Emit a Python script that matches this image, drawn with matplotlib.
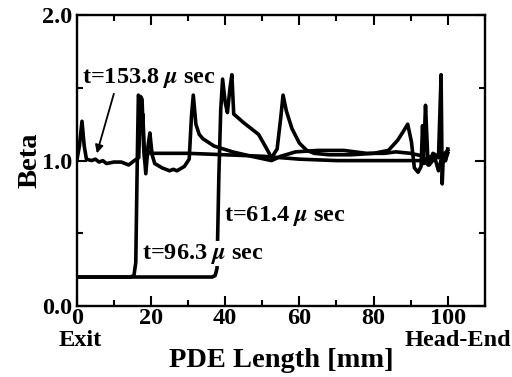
import matplotlib
matplotlib.use("Agg")
import matplotlib.pyplot as plt
from matplotlib.ticker import MultipleLocator

plt.rcParams["font.family"] = ["Liberation Serif", "DejaVu Serif"]
plt.rcParams["font.weight"] = "bold"
plt.rcParams["mathtext.fontset"] = "stix"

# t = 61.4 usec (front near 38 mm)
x_614 = [0, 10, 20, 30, 36.5, 37.3, 37.8, 38.3, 38.8, 39.3, 40.0, 40.6, 41.3, 41.8, 42.3,
         45, 49, 51, 52.5, 54, 55.0, 55.6, 56.5, 58, 60, 62, 64, 68, 74, 80, 84, 86.5,
         88, 89.2, 90.2, 91, 92, 92.8, 93.2, 93.5, 94.5, 96, 97.5, 98.2, 98.5, 98.8, 99.4, 100]
b_614 = [0.2, 0.2, 0.2, 0.2, 0.2, 0.21, 0.26, 0.9, 1.35, 1.56, 1.4, 1.33, 1.5, 1.59, 1.32,
         1.26, 1.18, 1.09, 1.02, 1.08, 1.3, 1.45, 1.34, 1.22, 1.12, 1.07, 1.05, 1.04, 1.04, 1.05, 1.07, 1.14,
         1.2, 1.25, 1.13, 0.95, 0.92, 0.96, 1.24, 0.98, 1.02, 1.03, 1.02, 1.59, 0.84, 1.03, 1.0, 1.08]

# t = 96.3 usec (front near 16 mm)
x_963 = [0, 5, 10, 14.5, 15.4, 15.9, 16.3, 16.6, 17.0, 17.4, 17.8, 18.3, 18.8, 19.4, 20.2,
         25, 30, 40, 50, 55, 60, 70, 80, 90, 93, 95, 96.5, 97.5, 98.5, 99.3, 100]
b_963 = [0.2, 0.2, 0.2, 0.2, 0.21, 0.3, 1.0, 1.45, 1.42, 1.2, 1.32, 1.0, 1.02, 1.06, 1.05,
         1.05, 1.05, 1.04, 1.03, 1.02, 1.01, 1.0, 1.0, 1.0, 1.0, 0.97, 1.02, 0.93, 1.04, 1.0, 1.05]

# t = 153.8 usec
x_1538 = [0, 0.7, 1.4, 2.0, 2.6, 4, 5, 6, 7, 8, 10, 12, 14, 15.5, 16.7, 17.2, 17.6, 18.0,
          18.6, 19.2, 19.7, 20.3, 21, 23, 25, 26, 27, 29, 30.3, 30.9, 31.4, 32.1, 33, 34,
          37, 42, 47, 52.5, 55, 59, 65, 72, 78, 83, 86, 90, 93.5, 94.0, 94.3, 94.7, 96, 98, 100]
b_1538 = [1.0, 1.1, 1.27, 1.1, 1.01, 1.0, 1.01, 0.99, 1.0, 0.98, 0.99, 0.99, 0.97, 1.0, 1.02, 1.44, 1.42, 1.1,
          0.91, 1.1, 1.19, 1.04, 0.98, 0.95, 0.93, 0.94, 0.93, 0.96, 1.01, 1.3, 1.45, 1.25, 1.18, 1.15,
          1.10, 1.06, 1.03, 1.0, 1.03, 1.06, 1.07, 1.07, 1.05, 1.05, 1.06, 1.05, 1.03, 1.38, 1.2, 0.97, 1.05, 1.02, 1.07]

fig = plt.figure(figsize=(5.12, 3.77), dpi=100)
ax = fig.add_axes([0.150, 0.188, 0.797, 0.772])

for xs, ys in [(x_614, b_614), (x_963, b_963), (x_1538, b_1538)]:
    ax.plot(xs, ys, color="black", linewidth=2.6, solid_joinstyle="round")

ax.set_xlim(0, 110)
ax.set_ylim(0, 2.0)
ax.xaxis.set_minor_locator(MultipleLocator(10))
ax.yaxis.set_minor_locator(MultipleLocator(0.5))
ax.set_xticks([0, 20, 40, 60, 80, 100])
ax.set_yticks([0.0, 1.0, 2.0])
ax.set_yticklabels(["0.0", "1.0", "2.0"])
ax.tick_params(which="both", direction="in", top=True, right=True, width=1.5)
ax.tick_params(which="major", length=7, labelsize=17.5, pad=1)
ax.tick_params(axis="y", which="major", pad=3)
ax.tick_params(which="minor", length=4.5)
for s in ax.spines.values():
    s.set_linewidth(1.7)

ax.set_ylabel("Beta", fontsize=20.5, fontweight="bold", labelpad=0)
ax.set_xlabel("PDE Length [mm]", fontsize=20.5, fontweight="bold", labelpad=14)

fig.text(80 / 512, 1 - 340 / 377, "Exit", fontsize=17.5, fontweight="bold", ha="center", va="center")
fig.text(458 / 512, 1 - 340 / 377, "Head-End", fontsize=17.5, fontweight="bold", ha="center", va="center")

box = dict(facecolor="white", edgecolor="none", pad=0.5)
ax.annotate(r"t=153.8 $\mu$ sec", xy=(5.4, 1.05), xytext=(1.3, 1.57),
            fontsize=17.5, fontweight="bold", va="center", ha="left",
            arrowprops=dict(arrowstyle="-|>", color="black", lw=1.3,
                            shrinkA=1, shrinkB=0, mutation_scale=12,
                            relpos=(0.25, 0.0)))
ax.text(39.7, 0.62, r"t=61.4 $\mu$ sec", fontsize=17.5, fontweight="bold", va="center", ha="left", bbox=box)
ax.text(17.6, 0.36, r"t=96.3 $\mu$ sec", fontsize=17.5, fontweight="bold", va="center", ha="left", bbox=box)

fig.savefig("out.png", dpi=100)
